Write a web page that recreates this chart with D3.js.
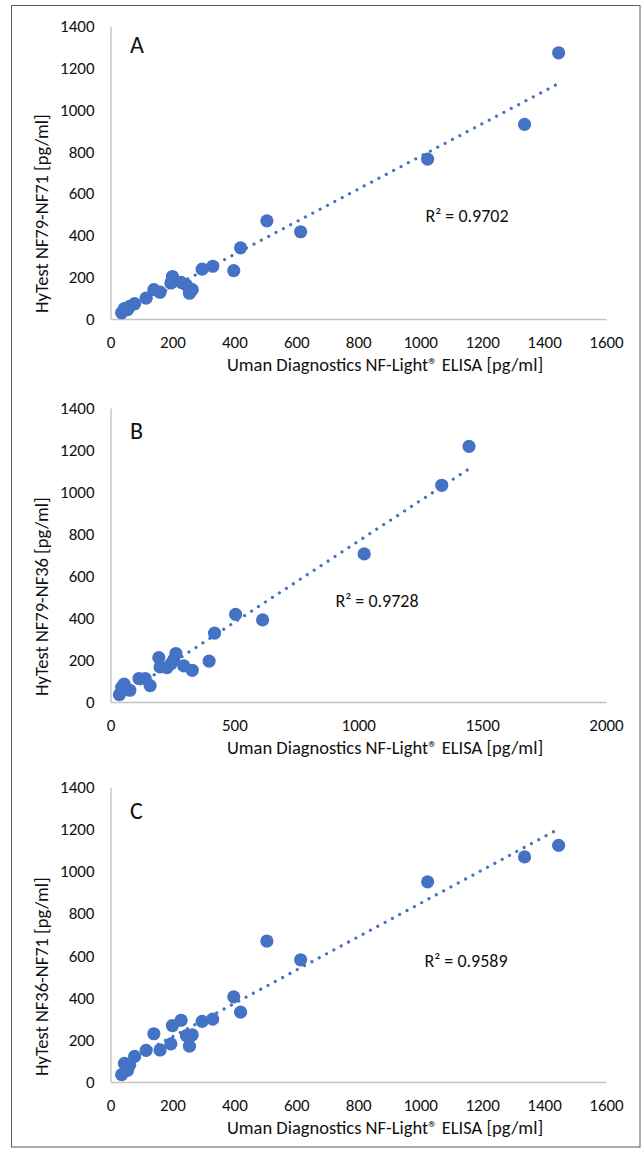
<!DOCTYPE html>
<html>
<head>
<meta charset="utf-8">
<script src="https://cdn.jsdelivr.net/npm/d3@7"></script>
<style>
  html, body { margin: 0; padding: 0; background: #fff; }
  svg { display: block; }
  text { font-family: Carlito, Calibri, Lato, sans-serif; fill: #111; }
</style>
</head>
<body>
<svg id="chart" width="641" height="1149"></svg>
<script>
(function () {
  // Uman Diagnostics NF-Light ELISA values, shared by all three panels
  var umanX = [36, 45, 55, 62, 78, 115, 140, 160, 195, 200, 228, 245, 255, 264, 296, 330, 398, 420, 505, 614, 1024, 1337, 1447];
  var nf79nf71 = [30, 50, 45, 60, 73, 100, 140, 128, 172, 203, 175, 162, 123, 140, 238, 252, 231, 340, 469, 417, 764, 930, 1272];
  var nf79nf36 = [35, 70, 85, 60, 56, 112, 112, 78, 211, 167, 164, 183, 200, 231, 172, 151, 195, 328, 417, 391, 705, 1032, 1217];
  var nf36nf71 = [35, 88, 55, 82, 122, 150, 229, 152, 181, 268, 293, 220, 170, 224, 288, 298, 404, 332, 669, 580, 950, 1068, 1123];

  var yTicks = [0, 200, 400, 600, 800, 1000, 1200, 1400];
  var xTicks1600 = [0, 200, 400, 600, 800, 1000, 1200, 1400, 1600];
  var xTicks2000 = [0, 500, 1000, 1500, 2000];

  var panelLetters = ["A", "B", "C"];
  var yTitles = ["HyTest NF79-NF71 [pg/ml]", "HyTest NF79-NF36 [pg/ml]", "HyTest NF36-NF71 [pg/ml]"];
  var rSquared = ["R\u00b2 = 0.9702", "R\u00b2 = 0.9728", "R\u00b2 = 0.9589"];
  var xTitle = "Uman Diagnostics NF-Light\u00ae ELISA [pg/ml]";

  var blue = "#4472c4";
  var svg = d3.select("#chart");

  var panels = [
    { top: 26, bottom: 319, xMax: 1600, xTicks: xTicks1600, ys: nf79nf71, letterY: 53, r2: [467, 222] },
    { top: 408, bottom: 702, xMax: 2000, xTicks: xTicks2000, ys: nf79nf36, letterY: 439, r2: [377, 607], clipBottom: 757 },
    { top: 787, bottom: 1082, xMax: 1600, xTicks: xTicks1600, ys: nf36nf71, letterY: 819, r2: [466, 967] }
  ];

  var left = 110.5, right = 606;

  function fit(xs, ys) {
    var n = xs.length, mx = d3.mean(xs), my = d3.mean(ys), sxy = 0, sxx = 0;
    for (var i = 0; i < n; i++) {
      sxy += (xs[i] - mx) * (ys[i] - my);
      sxx += (xs[i] - mx) * (xs[i] - mx);
    }
    var slope = sxy / sxx;
    return { slope: slope, intercept: my - slope * mx };
  }

  panels.forEach(function (p, idx) {
    var x = d3.scaleLinear().domain([0, p.xMax]).range([left, right]);
    var y = d3.scaleLinear().domain([0, 1400]).range([p.bottom, p.top]);
    var g = svg.append("g");

    if (p.clipBottom) {
      svg.append("clipPath").attr("id", "clip" + idx)
        .append("rect").attr("x", 0).attr("y", 0).attr("width", 641).attr("height", p.clipBottom);
      g.attr("clip-path", "url(#clip" + idx + ")");
    }

    // axes: plain grey lines, labels without tick marks
    var yAxis = g.append("g").attr("transform", "translate(" + left + ",0)")
      .call(d3.axisLeft(y).tickValues(yTicks).tickFormat(d3.format("d")).tickSize(0).tickPadding(16));
    var xAxis = g.append("g").attr("transform", "translate(0," + p.bottom + ")")
      .call(d3.axisBottom(x).tickValues(p.xTicks).tickFormat(d3.format("d")).tickSize(0).tickPadding(17));
    [yAxis, xAxis].forEach(function (a) {
      a.select(".domain").attr("stroke", "#c4c4c4").attr("stroke-width", 1.4);
      a.selectAll("text").attr("font-size", 17).attr("fill", "#111")
        .style("font-family", "Carlito, Calibri, Lato, sans-serif");
    });

    g.append("text")
      .attr("x", 130).attr("y", p.letterY)
      .attr("font-size", 24)
      .text(panelLetters[idx]);

    g.append("text")
      .attr("transform", "translate(48," + (p.bottom - 6) + ") rotate(-90)")
      .attr("font-size", 18.5)
      .text(yTitles[idx]);

    g.append("text")
      .attr("x", 385).attr("y", p.bottom + 52)
      .attr("text-anchor", "middle")
      .attr("font-size", 18.5)
      .text(xTitle);

    var pts = umanX.map(function (v, i) { return [v, p.ys[i]]; });

    g.append("g").selectAll("circle")
      .data(pts)
      .join("circle")
      .attr("cx", function (d) { return x(d[0]); })
      .attr("cy", function (d) { return y(d[1]); })
      .attr("r", 6.6)
      .attr("fill", blue);

    var lf = fit(umanX, p.ys);
    var x0 = d3.min(umanX), x1 = d3.max(umanX);
    g.append("line")
      .attr("x1", x(x0)).attr("y1", y(lf.intercept + lf.slope * x0))
      .attr("x2", x(x1)).attr("y2", y(lf.intercept + lf.slope * x1))
      .attr("stroke", blue)
      .attr("stroke-width", 3.2)
      .attr("stroke-linecap", "round")
      .attr("stroke-dasharray", "0.01 8.3");

    g.append("text")
      .attr("x", p.r2[0]).attr("y", p.r2[1])
      .attr("text-anchor", "middle")
      .attr("font-size", 18)
      .text(rSquared[idx]);
  });

  // outer frame
  svg.append("rect")
    .attr("x", 11.5).attr("y", 5.5)
    .attr("width", 628.5).attr("height", 1141.5)
    .attr("fill", "none")
    .attr("stroke", "#5a5a5a")
    .attr("stroke-width", 1);
})();
</script>
</body>
</html>
